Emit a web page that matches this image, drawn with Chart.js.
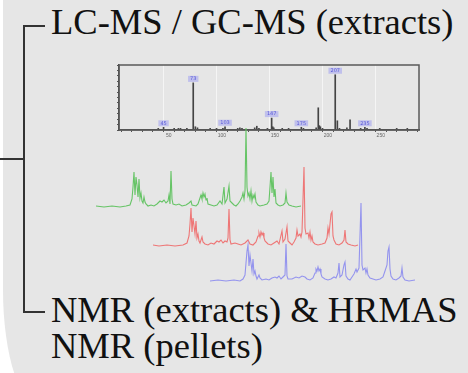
<!DOCTYPE html>
<html>
<head>
<meta charset="utf-8">
<script src="https://cdn.jsdelivr.net/npm/chart.js@4.4.0/dist/chart.umd.min.js"></script>
<style>
  html,body{margin:0;padding:0;background:#fff;width:468px;height:373px;overflow:hidden;}
  #bg{position:absolute;left:3px;top:0;width:470px;height:410px;background:#e6e6e6;border-bottom-left-radius:40px 120px;}
  .ln{position:absolute;background:#333;}
  .txt{position:absolute;left:51px;font-family:"Liberation Serif","Times New Roman",serif;font-size:36.5px;line-height:36px;color:#111;white-space:nowrap;}
  canvas{position:absolute;}
</style>
</head>
<body>
<div id="bg"></div>
<div class="ln" style="left:23px;top:25px;width:2px;height:288px;"></div>
<div class="ln" style="left:23px;top:25px;width:22px;height:2px;"></div>
<div class="ln" style="left:23px;top:311px;width:22px;height:2px;"></div>
<div class="ln" style="left:0px;top:158px;width:24px;height:2px;"></div>
<div class="txt" style="top:4px;">LC-MS / GC-MS (extracts)</div>
<div class="txt" style="top:292px;">NMR (extracts) &amp; HRMAS<br>NMR (pellets)</div>

<canvas id="ms" width="330" height="84" style="left:97px;top:60px;"></canvas>
<canvas id="g" width="207" height="84" style="left:95px;top:125px;"></canvas>
<canvas id="r" width="207" height="84" style="left:152px;top:164px;"></canvas>
<canvas id="b" width="207" height="84" style="left:209px;top:199px;"></canvas>

<script>
// ---- MS spectrum data (m/z, relative intensity) ----
const msMz  = [40,45,55,59,61,67,73,75,77,89,95,101,103,115,117,119,131,133,135,143,147,148,149,157,163,175,177,189,191,192,193,195,207,209,211,218,221,231,235,237,249,265,275];
const msInt = [1, 3, 1, 1, 1, 1, 85, 4, 2, 1, 1, 1,  4,  1,  2,  1,  2,  5,  1,  1,  20, 4,  2,  1,  1,  3,  1,  2,  39, 6,  4,  1,  100,15, 1,  2,  17, 1,  3,  1,  1,  1,  1];
const msLabelMz   = [45, 73, 103, 147, 175, 207, 235];
const msLabelText = ["45","73","103","147","175","207","235"];
const msXTicks = [50,100,150,200,250];
const msYTicks = [0,50,100];

// ---- NMR spectra (chemical shift index, intensity) ----
const greenSpectrum = [[0,1],[8,0],[16,1],[24,0],[30,1],[34,2],[36,8],[37,20],[38,35],[39,12],[40,30],[41,22],[42,10],[43,28],[44,9],[45,14],[46,6],[47,4],[48,10],[49,5],[50,3],[52,1],[55,2],[58,1],[61,3],[64,6],[66,5],[68,7],[70,4],[72,6],[73,12],[74,3],[75,36],[76,8],[77,3],[80,2],[83,3],[86,1],[90,2],[93,4],[95,6],[96,2],[100,1],[102,3],[104,9],[105,12],[106,8],[107,14],[108,10],[109,13],[110,7],[111,9],[112,3],[115,2],[118,1],[121,2],[124,6],[126,3],[128,20],[129,4],[131,8],[133,21],[134,6],[136,4],[138,2],[140,1],[142,3],[144,6],[146,10],[147,14],[148,8],[149,16],[150,79],[151,20],[152,11],[153,14],[154,8],[155,16],[156,6],[157,12],[158,9],[159,13],[160,5],[162,2],[164,1],[168,2],[171,3],[173,6],[174,20],[175,35],[176,14],[177,30],[178,10],[179,18],[180,4],[182,2],[184,1],[187,2],[189,4],[190,14],[191,5],[193,2],[196,1],[200,0],[205,1]];
const redSpectrum = [[0,1],[6,0],[14,1],[22,0],[30,1],[34,3],[36,10],[37,22],[38,38],[39,14],[40,28],[41,20],[42,12],[43,25],[44,8],[45,12],[46,5],[47,3],[49,9],[50,4],[52,2],[55,1],[58,3],[61,2],[64,5],[66,4],[68,6],[70,3],[72,5],[74,4],[75,8],[76,37],[77,6],[78,2],[82,3],[85,2],[88,1],[92,3],[95,6],[97,2],[100,1],[103,4],[105,10],[106,13],[107,9],[108,14],[109,11],[110,13],[111,8],[112,5],[115,2],[118,1],[121,3],[124,5],[126,2],[129,15],[130,4],[132,7],[134,19],[135,5],[137,3],[139,1],[141,4],[143,8],[144,16],[145,10],[147,12],[148,9],[149,14],[151,79],[152,18],[153,12],[155,13],[156,8],[157,14],[158,6],[159,10],[160,4],[162,2],[165,1],[169,2],[172,3],[174,8],[175,18],[176,12],[178,32],[179,34],[180,10],[181,6],[183,2],[186,1],[189,3],[191,6],[192,16],[193,4],[195,2],[198,1],[202,0],[205,1]];
const blueSpectrum = [[0,0],[8,1],[16,0],[24,1],[30,0],[33,2],[35,6],[36,18],[37,30],[38,36],[39,15],[40,26],[41,18],[42,10],[43,22],[44,7],[45,10],[46,5],[47,2],[49,6],[50,3],[52,1],[56,2],[59,1],[62,3],[65,4],[67,3],[69,5],[71,2],[73,4],[75,6],[76,37],[77,5],[78,2],[82,2],[86,4],[89,3],[92,5],[95,4],[97,2],[100,1],[103,3],[105,8],[106,12],[107,10],[108,14],[109,10],[110,12],[111,7],[112,4],[115,2],[118,1],[121,2],[124,4],[126,3],[128,8],[129,18],[130,4],[132,6],[134,16],[135,19],[136,5],[138,2],[140,1],[142,4],[144,7],[146,12],[147,9],[149,13],[151,78],[152,16],[153,11],[155,13],[156,8],[157,12],[158,6],[160,3],[163,2],[166,1],[170,2],[173,4],[175,10],[177,16],[178,30],[179,34],[180,12],[181,5],[183,2],[186,1],[189,3],[191,5],[192,13],[193,4],[195,1],[199,0],[205,1]];

Chart.defaults.devicePixelRatio = 1;
Chart.defaults.animation = false;

const framePlugin = {
  id:'frame',
  afterDraw(chart){
    const a = chart.chartArea, c = chart.ctx;
    c.save(); c.strokeStyle='#5a5a5a'; c.lineWidth=1.5;
    c.strokeRect(a.left, a.top, a.right-a.left, a.bottom-a.top);
    c.restore();
  }
};
const labelPlugin = {
  id:'peakLabels',
  afterDatasetsDraw(chart){
    const c = chart.ctx, xs = chart.scales.x, ys = chart.scales.y;
    c.save();
    c.font = '5px "DejaVu Sans", sans-serif';
    c.textAlign = 'center'; c.textBaseline = 'middle';
    msLabelMz.forEach((mz,i)=>{
      const idx = msMz.indexOf(mz);
      const v = idx>=0 ? msInt[idx] : 0;
      const px = xs.getPixelForValue(mz);
      const py = ys.getPixelForValue(v) - 4;
      const w = c.measureText(msLabelText[i]).width + 4;
      c.fillStyle = 'rgba(160,160,240,0.55)';
      c.fillRect(px - w/2, py - 3, w, 6);
      c.fillStyle = '#5a5ad8';
      c.fillText(msLabelText[i], px, py);
    });
    c.restore();
  }
};

new Chart(document.getElementById('ms'), {
  type:'bar',
  data:{ datasets:[{ data: msMz.map((x,i)=>({x:x, y:msInt[i]})), backgroundColor:'#444', barThickness:1 }] },
  options:{
    responsive:false,
    layout:{ padding:{ top:5, right:8, left:0, bottom:0 } },
    plugins:{ legend:{display:false}, tooltip:{enabled:false} },
    scales:{
      x:{ type:'linear', min:8, max:281,
          afterFit(s){ s.height = 14; },
          ticks:{ stepSize:10, includeBounds:false, autoSkip:false, maxRotation:0, padding:1,
                  font:{size:5}, color:'#666',
                  callback:(v)=> msXTicks.includes(v) ? String(v) : '' },
          grid:{ color:(ctx)=> (ctx.tick && msXTicks.includes(ctx.tick.value)) ? 'rgba(255,255,255,0.6)' : 'rgba(0,0,0,0)',
                 tickColor:'#555', tickLength:2 },
          border:{ color:'#444', width:1.5 } },
      y:{ type:'linear', min:-2, max:118,
          afterFit(s){ s.width = 22; },
          ticks:{ stepSize:10, includeBounds:false, autoSkip:false, padding:1,
                  font:{size:5}, color:'#666',
                  callback:(v)=> msYTicks.includes(v) ? String(v) : '' },
          grid:{ color:'rgba(0,0,0,0)', tickColor:'#555', tickLength:2 },
          border:{ color:'#444', width:1.5 } }
    }
  },
  plugins:[framePlugin, labelPlugin]
});

function spectrum(id, pts, color){
  new Chart(document.getElementById(id), {
    type:'line',
    data:{ datasets:[{ data: pts.map(p=>({x:p[0], y:p[1]})), borderColor:color, borderWidth:1.1, pointRadius:0, tension:0, fill:false }] },
    options:{
      responsive:false,
      layout:{ padding:0 },
      plugins:{ legend:{display:false}, tooltip:{enabled:false} },
      scales:{
        x:{ type:'linear', min:-1, max:206, display:false },
        y:{ type:'linear', min:-2, max:82, display:false }
      }
    }
  });
}
spectrum('g', greenSpectrum, '#66c466');
spectrum('r', redSpectrum, '#ee7676');
spectrum('b', blueSpectrum, '#9494ee');
</script>
</body>
</html>
